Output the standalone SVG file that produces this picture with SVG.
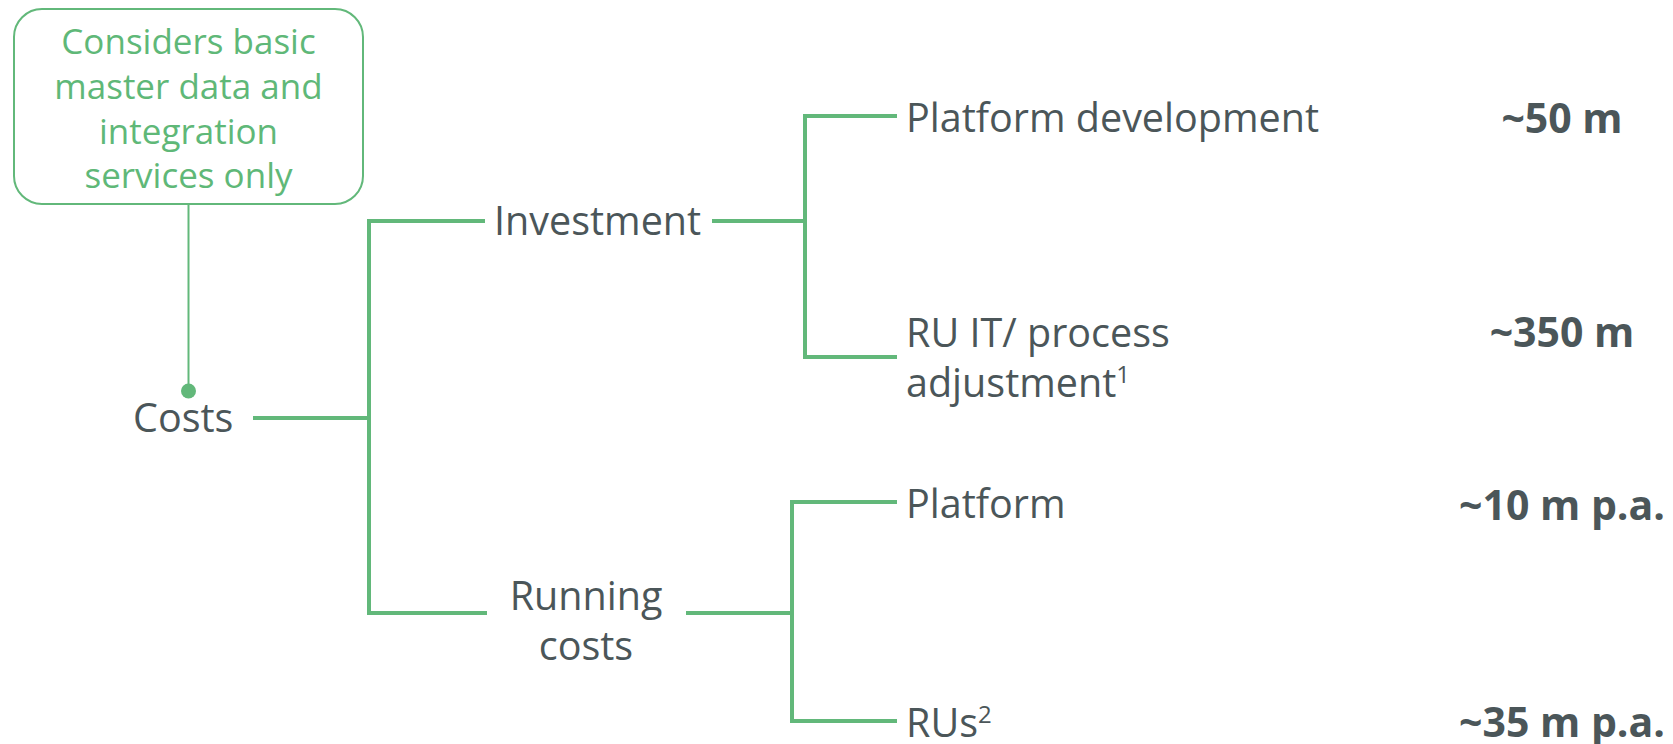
<svg xmlns="http://www.w3.org/2000/svg" width="1673" height="744" viewBox="0 0 1673 744">
<style>
.t{font-family:"Open Sans","Noto Sans",sans-serif;fill:#4b5659;font-size:39.5px}
.b{font-family:"Open Sans","Noto Sans",sans-serif;fill:#4b5659;font-size:41px;font-weight:bold;text-anchor:middle}
.n{font-family:"Open Sans","Noto Sans",sans-serif;fill:#5fb878;font-size:35px;text-anchor:middle}
.c{fill:none;stroke:#62b87a;stroke-width:4}
.sup{font-size:24px}
</style>
<rect width="1673" height="744" fill="#fff"/>
<g id="note">
<rect x="14" y="9" width="349" height="195" rx="28" fill="#fff" stroke="#62b87a" stroke-width="2"/>
<text class="n" x="188.5" y="54">Considers basic</text>
<text class="n" x="188.5" y="99">master data and</text>
<text class="n" x="188.5" y="144">integration</text>
<text class="n" x="188.5" y="188">services only</text>
</g>
<g id="connectors">
<line x1="188.5" y1="204" x2="188.5" y2="391" stroke="#62b87a" stroke-width="2"/>
<circle cx="188.5" cy="391" r="7.5" fill="#62b87a"/>
<path class="c" d="M253 418H369M485 221H369V613H487"/>
<path class="c" d="M712 221H805M897 116H805V357H897"/>
<path class="c" d="M686 613H792M897 502H792V721H897"/>
</g>
<g id="costs"><text class="t" x="133" y="432">Costs</text></g>
<g id="investment"><text class="t" x="494" y="235">Investment</text></g>
<g id="running"><text class="t" x="586" y="610" text-anchor="middle">Running</text><text class="t" x="586" y="660" text-anchor="middle">costs</text></g>
<g id="platform-dev"><text class="t" x="906" y="132">Platform development</text></g>
<g id="ru-it"><text class="t" x="906" y="347">RU IT/ process</text><text class="t" x="906" y="397">adjustment<tspan class="sup" dy="-14">1</tspan></text></g>
<g id="platform"><text class="t" x="906" y="518">Platform</text></g>
<g id="rus"><text class="t" x="906" y="737">RUs<tspan class="sup" dy="-14">2</tspan></text></g>
<g id="v1"><text class="b" x="1562" y="133">~50 m</text></g>
<g id="v2"><text class="b" x="1562" y="347">~350 m</text></g>
<g id="v3"><text class="b" x="1562" y="520">~10 m p.a.</text></g>
<g id="v4"><text class="b" x="1562" y="737">~35 m p.a.</text></g>
</svg>
